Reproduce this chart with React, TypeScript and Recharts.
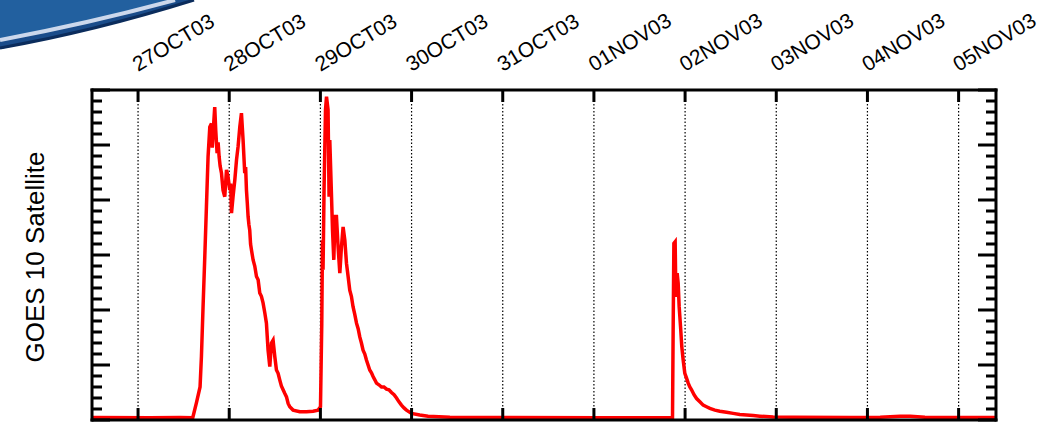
import { CartesianGrid, Line, LineChart, XAxis, YAxis } from 'recharts';

// days counted from 27OCT03 00:00
const dayTicks = [0, 1, 2, 3, 4, 5, 6, 7, 8, 9];
const dayLabels = [
  '27OCT03',
  '28OCT03',
  '29OCT03',
  '30OCT03',
  '31OCT03',
  '01NOV03',
  '02NOV03',
  '03NOV03',
  '04NOV03',
  '05NOV03',
];

// unlabelled y axis: majors at whole units, minors every 0.2
const yTicks = [
  0, 0.2, 0.4, 0.6, 0.8, 1, 1.2, 1.4, 1.6, 1.8, 2, 2.2, 2.4, 2.6, 2.8, 3, 3.2,
  3.4, 3.6, 3.8, 4, 4.2, 4.4, 4.6, 4.8, 5, 5.2, 5.4, 5.6, 5.8, 6,
];

const days = [
  -0.5, 0.13, 0.46, 0.6, 0.64, 0.68, 0.695, 0.713, 0.732, 0.75, 0.768, 0.787,
  0.805, 0.814, 0.823, 0.841, 0.852, 0.867, 0.878, 0.889, 0.9, 0.915, 0.932,
  0.951, 0.97, 0.987, 1.006, 1.016, 1.025, 1.042, 1.061, 1.08, 1.097, 1.116,
  1.134, 1.152, 1.17, 1.18, 1.189, 1.198, 1.207, 1.216, 1.225, 1.234, 1.244,
  1.253, 1.262, 1.28, 1.299, 1.317, 1.335, 1.353, 1.371, 1.39, 1.408, 1.426,
  1.445, 1.463, 1.481, 1.5, 1.518, 1.536, 1.554, 1.572, 1.591, 1.61, 1.628,
  1.646, 1.664, 1.7, 1.774, 1.847, 1.92, 1.975, 2.001, 2.015, 2.023, 2.029,
  2.04, 2.056, 2.067, 2.084, 2.095, 2.103, 2.122, 2.133, 2.147, 2.161, 2.176,
  2.194, 2.213, 2.231, 2.249, 2.268, 2.286, 2.304, 2.322, 2.34, 2.358, 2.377,
  2.396, 2.414, 2.432, 2.45, 2.468, 2.487, 2.505, 2.523, 2.541, 2.56, 2.578,
  2.597, 2.615, 2.642, 2.67, 2.697, 2.725, 2.752, 2.78, 2.808, 2.835, 2.862,
  2.889, 2.917, 2.944, 2.999, 3.09, 3.181, 3.42, 3.75, 5.07, 5.862, 5.869,
  5.877, 5.891, 5.899, 5.913, 5.924, 5.935, 5.95, 5.964, 5.979, 5.997, 6.016,
  6.034, 6.052, 6.071, 6.098, 6.126, 6.162, 6.198, 6.235, 6.272, 6.327, 6.381,
  6.454, 6.527, 6.6, 6.674, 6.747, 6.82, 6.966, 7.185, 7.81, 8.14, 8.36, 8.47,
  8.63, 9.41,
];

const flux = [
  0.045, 0.04, 0.045, 0.042, 0.31, 0.6, 1.15, 2.06, 2.97, 3.88, 4.79, 5.33,
  5.39, 4.95, 5.22, 5.69, 5.27, 4.85, 5.05, 4.79, 4.62, 4.49, 4.18, 4.06, 4.55,
  4.42, 4.18, 4.3, 3.76, 4.06, 4.36, 4.73, 4.97, 5.33, 5.58, 5.09, 4.49, 4.6,
  4.18, 3.95, 3.7, 3.55, 3.45, 3.2, 3.09, 3.0, 2.91, 2.8, 2.61, 2.55, 2.31,
  2.25, 2.13, 1.95, 1.76, 1.27, 0.97, 1.4, 1.45, 1.15, 0.91, 0.85, 0.73, 0.62,
  0.55, 0.48, 0.42, 0.3, 0.24, 0.18, 0.15, 0.15, 0.16, 0.18, 0.24, 1.75, 3.27,
  2.73, 4.18, 5.64, 5.88, 5.64, 4.06, 5.09, 4.06, 3.45, 2.91, 3.7, 3.7, 3.15,
  2.67, 3.15, 3.51, 3.27, 2.85, 2.61, 2.36, 2.25, 2.06, 1.92, 1.76, 1.66, 1.51,
  1.4, 1.27, 1.2, 1.09, 1.0, 0.91, 0.86, 0.79, 0.73, 0.67, 0.64, 0.6, 0.6, 0.56,
  0.55, 0.5, 0.46, 0.4, 0.33, 0.27, 0.22, 0.18, 0.12, 0.09, 0.07, 0.05, 0.045,
  0.04, 0.04, 1.64, 3.21, 3.24, 2.24, 2.67, 2.49, 2.06, 1.7, 1.33, 1.09, 0.85,
  0.76, 0.67, 0.6, 0.55, 0.46, 0.39, 0.33, 0.27, 0.24, 0.21, 0.18, 0.16, 0.14,
  0.12, 0.1, 0.09, 0.08, 0.07, 0.055, 0.05, 0.045, 0.05, 0.07, 0.07, 0.05,
  0.045,
];

const data = days.map((d, i) => ({ day: d, flux: flux[i] }));

const font = '"Liberation Sans", Arial, Helvetica, sans-serif';
const frame = { stroke: '#000', strokeWidth: 3, strokeLinecap: 'square' as const };
const tickStroke = { stroke: '#000', strokeWidth: 3 };

const NoTick = () => <g />;

// inward tick marks, long on whole units
function YTick({ x, y, payload, side }: any) {
  const v = payload.value;
  const len = Math.abs(v - Math.round(v)) < 1e-6 ? 18 : 10;
  const dir = side === 'right' ? -1 : 1;
  return <line x1={x} y1={y} x2={x + dir * len} y2={y} stroke="#000" strokeWidth={3} />;
}

function DateTick({ x, y, payload }: any) {
  const label = dayLabels[dayTicks.indexOf(payload.value)];
  return (
    <text
      x={x}
      y={y}
      fontSize={21}
      fontFamily={font}
      fill="#000"
      textAnchor="start"
      transform={`rotate(-31 ${x} ${y})`}
    >
      {label}
    </text>
  );
}

function Swoosh() {
  return (
    <svg
      width={1054}
      height={422}
      style={{ position: 'absolute', left: 0, top: 0 }}
    >
      <path d="M0,0 L194,0 Q95,31 0,49 Z" fill="#22609f" />
      <path d="M0,49 Q95,31 194,0 L178,0 Q90,25 0,41 Z" fill="#1a4c8a" />
      <path
        d="M0,40 Q90,23 175,0"
        fill="none"
        stroke="#dfe5f4"
        strokeWidth={4}
        opacity={0.9}
      />
      <path
        d="M0,48 Q95,31 194,0"
        fill="none"
        stroke="#0b2c5c"
        strokeWidth={3}
      />
      <text
        x={43.5}
        y={257}
        fontSize={26}
        fontFamily={font}
        fill="#000"
        textAnchor="middle"
        transform="rotate(-90 43.5 257)"
      >
        GOES 10 Satellite
      </text>
    </svg>
  );
}

export default function App() {
  return (
    <div style={{ position: 'absolute', left: 0, top: 0, width: 1054, height: 422, background: '#fff' }}>
      <Swoosh />
      <div style={{ position: 'absolute', left: 0, top: 0 }}>
        <LineChart
          width={1054}
          height={422}
          data={data}
          margin={{ top: 90, right: 58, bottom: 2, left: 92 }}
        >
          <CartesianGrid
            xAxisId="top"
            yAxisId="left"
            horizontal={false}
            stroke="#000"
            strokeWidth={1.2}
            strokeDasharray="1.5 2"
          />
          <XAxis
            xAxisId="top"
            orientation="top"
            dataKey="day"
            type="number"
            domain={[-0.505, 9.41]}
            ticks={dayTicks}
            height={0.01}
            axisLine={frame}
            tickLine={tickStroke}
            tickSize={-12}
            tickMargin={30}
            tick={<DateTick />}
            interval={0}
          />
          <XAxis
            xAxisId="bottom"
            orientation="bottom"
            dataKey="day"
            type="number"
            domain={[-0.505, 9.41]}
            ticks={dayTicks}
            height={0.01}
            axisLine={frame}
            tickLine={tickStroke}
            tickSize={-12}
            tick={<NoTick />}
            interval={0}
          />
          <YAxis
            yAxisId="left"
            orientation="left"
            type="number"
            domain={[0, 6]}
            ticks={yTicks}
            width={0.01}
            axisLine={frame}
            tickLine={false}
            tickSize={0}
            tickMargin={0}
            tick={<YTick side="left" />}
            interval={0}
          />
          <YAxis
            yAxisId="right"
            orientation="right"
            type="number"
            domain={[0, 6]}
            ticks={yTicks}
            width={0.01}
            axisLine={frame}
            tickLine={false}
            tickSize={0}
            tickMargin={0}
            tick={<YTick side="right" />}
            interval={0}
          />
          {/* invisible copy so the bottom and right axes get a scale */}
          <Line
            xAxisId="bottom"
            yAxisId="right"
            type="linear"
            dataKey="flux"
            stroke="none"
            dot={false}
            activeDot={false}
            isAnimationActive={false}
          />
          <Line
            xAxisId="top"
            yAxisId="left"
            type="linear"
            dataKey="flux"
            stroke="#ff0000"
            strokeWidth={3.5}
            dot={false}
            isAnimationActive={false}
          />
        </LineChart>
      </div>
    </div>
  );
}
